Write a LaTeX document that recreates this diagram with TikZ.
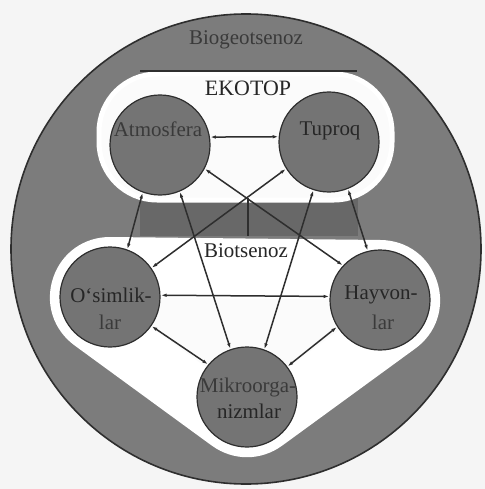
\documentclass[tikz,border=0pt]{standalone}
\usepackage{fontspec}
\setmainfont{Liberation Serif}
\usetikzlibrary{arrows.meta}
\definecolor{bgc}{HTML}{F5F5F5}
\definecolor{ringc}{HTML}{7C7C7C}
\definecolor{bandc}{HTML}{686868}
\definecolor{unitc}{HTML}{747474}
\definecolor{edgec}{HTML}{2E2E2E}
\definecolor{txtc}{HTML}{262626}
\definecolor{fadec}{HTML}{3A3A3A}
\definecolor{regc}{HTML}{FBFBFB}
\tikzset{
  unit/.style={circle, minimum size=100bp, inner sep=0pt, fill=unitc, draw=edgec, line width=1.2bp},
  conn/.style={draw=edgec, line width=1.5bp, {Latex[length=6bp,width=3.5bp]}-{Latex[length=6bp,width=3.5bp]}},
  lbl/.style={text=txtc, font=\fontsize{21}{24}\selectfont, align=center, inner sep=0pt},
  faint/.style={text=fadec, font=\fontsize{21}{24}\selectfont, align=center, inner sep=0pt},
}
\begin{document}
\begin{tikzpicture}[x=1bp, y=-1bp]
\useasboundingbox (0,0) rectangle (485,489);
\fill[bgc] (0,0) rectangle (485,489);
% outer circle (biogeotsenoz)
\fill[ringc, draw=edgec, line width=1.6bp] (246,249) circle (235);
\node[faint] (bgt) at (246,40) {Biogeotsenoz};
% band between regions
\fill[bandc] (140,198) rectangle (358,236);
% EKOTOP region
\draw[white, line width=5bp, fill=regc, rounded corners=58bp] (99,74) rectangle (392,200);
\draw[edgec, line width=1.2bp] (140,71) -- (357,71);
% Biotsenoz region
\draw[white, line width=120bp, line join=round, fill=regc] (110,297) -- (380,300) -- (247,397) -- cycle;
\fill[regc] (110,297) -- (380,300) -- (247,397) -- cycle;
% units
\node[unit] (atm) at (160,145) {};
\node[unit] (tup) at (329,142) {};
\node[unit] (osi) at (110,297) {};
\node[unit] (hay) at (380,300) {};
\node[unit] (mik) at (247,397) {};
% EKOTOP -> Biotsenoz link
\coordinate (ekb) at (248,198);
\coordinate (bio) at (248,236);
\draw[edgec, line width=2.6bp] (ekb) -- (bio);
% texts
\node[lbl, font=\fontsize{22}{24}\selectfont] (eko) at (248,88) {EKOTOP};
\node[lbl] (bts) at (246,251) {Biotsenoz};
\node[faint] (atmt) at (158,129) {Atmosfera};
\node[lbl] (tupt) at (330,131) {Tuproq};
\node[lbl] (osit1) at (111,295) {O‘simlik-};
\node[faint] (osit2) at (110,322) {lar};
\node[lbl] (hayt1) at (381,295) {Hayvon-};
\node[faint] (hayt2) at (383,322) {lar};
\node[faint] (mikt1) at (248,387) {Mikroorga-};
\node[lbl] (mikt2) at (249,411) {nizmlar};
% connectors
\draw[conn] (atm.9) -- (tup.174);
\draw[conn] (atm.250) -- (osi.70);
\draw[conn] (atm.293) -- (mik.109);
\draw[conn] (atm.-28) -- (hay.137);
\draw[conn] (tup.212) -- (osi.35);
\draw[conn] (tup.252) -- (mik.70);
\draw[conn] (tup.292) -- (hay.104);
\draw[conn] (osi.2) -- (hay.176);
\draw[conn] (osi.-35) -- (mik.140);
\draw[conn] (hay.212) -- (mik.37);
\end{tikzpicture}
\end{document}
